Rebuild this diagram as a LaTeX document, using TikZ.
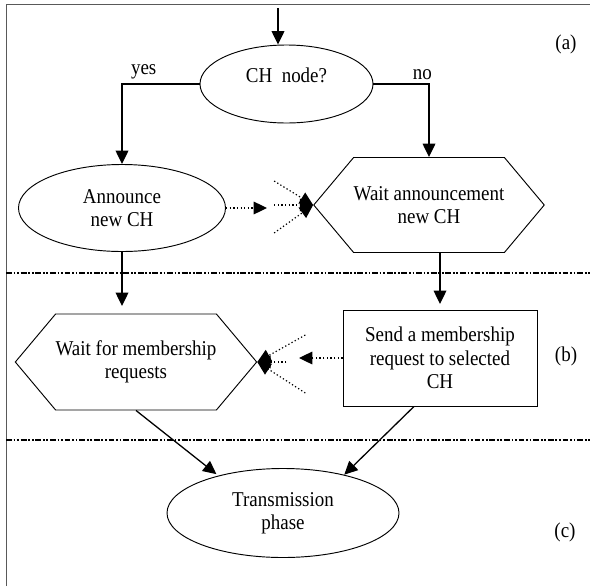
\documentclass[tikz,border=0pt]{standalone}
\usepackage{fontspec}
\setmainfont{Liberation Serif}[FakeStretch=0.9]
\usetikzlibrary{positioning,arrows.meta,shapes.geometric,shapes.symbols,calc}

\begin{document}
\begin{tikzpicture}[x=0.03cm, y=-0.03cm,
  every node/.style={font=\fontsize{18}{20}\selectfont},
  oval/.style={ellipse, draw, line width=0.8pt, align=center, inner sep=0pt},
  hexa/.style={signal, signal to=west and east, signal pointer angle=100, draw, line width=0.8pt,
               align=center, inner sep=0pt},
  boxed/.style={draw, line width=0.8pt, align=center, inner sep=0pt},
  arr/.style={-{Triangle[length=0.4cm,width=0.38cm]}, line width=1.1pt},
  darr/.style={arr, dotted, line width=1pt},
  sep/.style={line width=1.4pt, dash pattern=on 5pt off 1.5pt on 1.5pt off 1.5pt on 1.5pt off 1.5pt}]
\useasboundingbox (0,0) rectangle (590,586);
% frame and phase separators
\draw[line width=0.8pt, gray!70!black] (6,586) -- (6,4) -- (590,4);
\draw[sep] (6,273) -- (590,273);
\draw[sep] (6,440) -- (590,440);
% nodes
\node[oval, minimum width=5.19cm, minimum height=2.34cm] (ch) at (286.5,84) {\raisebox{0.06cm}[0pt][0pt]{CH~~node?}};
\node[oval, minimum width=6.21cm, minimum height=2.61cm] (ann) at (122,208) {Announce\\new CH};
\node[hexa, minimum width=6.78cm, minimum height=2.85cm] (wann) at (429,205) {Wait announcement\\new CH};
\node[hexa, minimum width=6.99cm, minimum height=2.88cm] (wmem) at (136,362) {Wait for membership\\requests};
\node[boxed, minimum width=5.82cm, minimum height=2.88cm] (sendreq) at (440,358) {Send a membership\\request to selected\\CH};
\node[oval, minimum width=6.96cm, minimum height=2.67cm] (trans) at (283,513) {Transmission\\phase};
\node (pa) at (566,44) {(a)};
\node (pb) at (566,356) {(b)};
\node (pc) at (565,532) {(c)};
% free ends
\coordinate (start) at (278,8);
\coordinate (annend) at (122,306);
\coordinate (wannend) at (440,304);
\coordinate (anntip) at (267,208);
\coordinate (sendtip) at (299,358);
% connectors
\draw[arr] (start) -- (ch.north -| start);
\draw[arr] (ch.west) -| node[above, pos=0.36]{yes} (ann.north);
\draw[arr] (ch.east) -| node[above, pos=0.44]{no} (wann.north);
\draw[darr] (ann.east) -- (anntip);
\foreach \i/\dx/\dy in {1/-39/-24,2/-39/0,3/-39/28}{
  \coordinate (sa\i) at ($(wann.west)+(\dx,\dy)$);
  \draw[darr] (sa\i) -- (wann.west);}
\draw[arr] (ann.south) -- (annend);
\draw[arr] (wann.south -| wannend) -- (wannend);
\draw[darr] (sendreq.west) -- (sendtip);
\foreach \i/\dx/\dy in {1/48/-27,2/29/0,3/48/31}{
  \coordinate (sb\i) at ($(wmem.east)+(\dx,\dy)$);
  \draw[darr] (sb\i) -- (wmem.east);}
\draw[arr, shorten >=2pt] (wmem.south) -- (trans.150);
\draw[arr] ([xshift=-0.78cm]sendreq.south) -- (trans.32);
\end{tikzpicture}
\end{document}
